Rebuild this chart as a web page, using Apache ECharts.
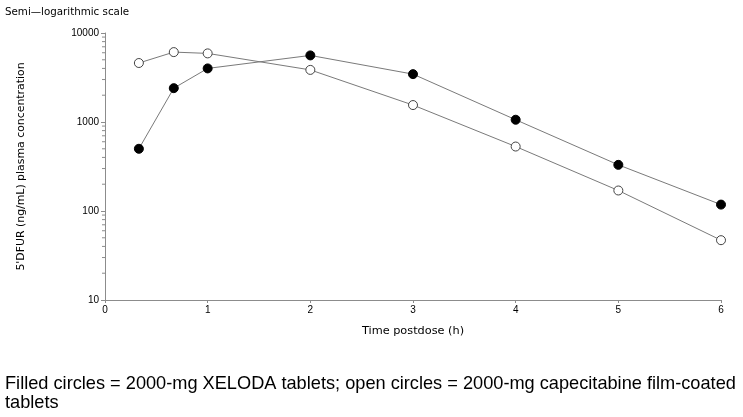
<!DOCTYPE html>
<html>
<head>
<meta charset="utf-8">
<script src="https://cdn.jsdelivr.net/npm/echarts@6/dist/echarts.min.js"></script>
<style>
  html, body { margin: 0; padding: 0; background: #fff; }
  #chart { width: 743px; height: 417px; }
</style>
</head>
<body>
<div id="chart"></div>
<script>
// time points (h)
var times = [0.33, 0.67, 1, 2, 3, 4, 5, 6]
// 5'DFUR plasma concentration (ng/mL)
var xelodaTablets = [500, 2400, 4000, 5600, 3450, 1060, 330, 118]
var filmCoated = [4600, 6100, 5900, 3850, 1550, 530, 170, 47]
// minor ticks on the log axis
var minorTicks = [20, 30, 40, 50, 60, 70, 80, 90, 200, 300, 400, 500, 600, 700, 800, 900,
  2000, 3000, 4000, 5000, 6000, 7000, 8000, 9000]

var axisColor = '#8c8c8c'
var lineColor = '#7a7a7a'
var font = 'Liberation Sans, Arial, sans-serif'
var wideFont = 'DejaVu Sans, sans-serif'

function pairs (xs, ys) {
  return xs.map(function (x, i) { return [x, ys[i]] })
}

var myChart = echarts.init(document.getElementById('chart'))
myChart.setOption({
  animation: false,
  backgroundColor: '#fff',
  title: [
    {
      text: 'Semi\u2014logarithmic scale',
      left: 5,
      top: 7,
      padding: 0,
      textStyle: { fontFamily: wideFont, fontSize: 10.3, fontWeight: 'normal', color: '#000' }
    },
    {
      text: 'Filled circles = 2000-mg XELODA tablets; open circles = 2000-mg capecitabine film-coated\ntablets',
      left: 5,
      top: 374,
      padding: 0,
      textStyle: { fontFamily: font, fontSize: 18.2, fontWeight: 'normal', color: '#000', lineHeight: 19 }
    }
  ],
  grid: { left: 105, right: 22, top: 33, bottom: 117 },
  xAxis: {
    type: 'value',
    min: 0,
    max: 6,
    interval: 1,
    name: 'Time postdose (h)',
    nameLocation: 'middle',
    nameGap: 26,
    nameTextStyle: { fontFamily: wideFont, fontSize: 11.3, color: '#000' },
    axisLine: { lineStyle: { color: axisColor, width: 1 } },
    axisTick: { show: true, length: 3, lineStyle: { color: axisColor } },
    axisLabel: { fontFamily: font, fontSize: 10, color: '#000', margin: 5 },
    splitLine: { show: false }
  },
  yAxis: {
    type: 'log',
    logBase: 10,
    min: 10,
    max: 10000,
    name: "5'DFUR (ng/mL) plasma concentration",
    nameLocation: 'middle',
    nameGap: 78,
    nameRotate: 90,
    nameTextStyle: { fontFamily: wideFont, fontSize: 10.9, color: '#000' },
    axisLine: { show: true, lineStyle: { color: axisColor, width: 1 } },
    axisTick: { show: true, length: 4, lineStyle: { color: axisColor } },
    axisLabel: {
      fontFamily: font,
      fontSize: 10,
      color: '#000',
      margin: 6,
      formatter: function (v) { return String(Math.round(v)) }
    },
    splitLine: { show: false }
  },
  series: [
    {
      name: 'film-coated',
      type: 'line',
      data: pairs(times, filmCoated),
      symbol: 'circle',
      symbolSize: 9,
      lineStyle: { color: lineColor, width: 1 },
      itemStyle: { color: '#fff', borderColor: '#444', borderWidth: 1 }
    },
    {
      name: 'XELODA',
      type: 'line',
      data: pairs(times, xelodaTablets),
      symbol: 'circle',
      symbolSize: 9,
      lineStyle: { color: lineColor, width: 1 },
      itemStyle: { color: '#000', borderColor: '#000', borderWidth: 1 }
    },
    {
      type: 'custom',
      silent: true,
      clip: false,
      data: minorTicks.map(function (v) { return [0, v] }),
      renderItem: function (params, api) {
        var p = api.coord([0, api.value(1)])
        return {
          type: 'line',
          shape: { x1: p[0], y1: p[1], x2: p[0] - 3, y2: p[1] },
          style: { stroke: axisColor, lineWidth: 1 }
        }
      }
    }
  ]
})
</script>
</body>
</html>
